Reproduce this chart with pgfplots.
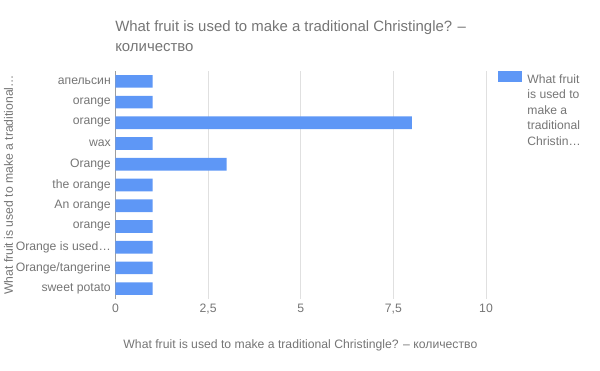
\documentclass[border=0pt]{standalone}
\usepackage{pgfplots}
\pgfplotsset{compat=1.18}
\usepackage{fontspec}
\setmainfont{Liberation Sans}
\definecolor{barblue}{HTML}{5E97F6}
\definecolor{txt}{HTML}{757575}
\definecolor{gridgray}{HTML}{E0E0E0}
\definecolor{axisgray}{HTML}{9E9E9E}
\begin{document}
\begin{tikzpicture}
\path[use as bounding box] (0,0) rectangle (450pt,278.25pt);
\begin{axis}[
  at={(86.6pt,54pt)}, anchor=south west,
  scale only axis, width=277.9pt, height=171pt,
  xbar, bar width=9.5pt,
  xmin=0, xmax=10, ymin=-0.5, ymax=10.5, y dir=reverse,
  xtick={2.5,5,7.5,10}, xticklabels={{2,5},5,{7,5},10},
  extra x ticks={0}, extra x tick labels={0},
  extra x tick style={grid style={draw=axisgray, line width=0.75pt}},
  xmajorgrids, grid style={draw=gridgray, line width=0.75pt},
  ytick={0,...,10},
  yticklabels={апельсин, orange, orange, wax, Orange, the orange, An orange, orange, Orange is used…, Orange/tangerine, sweet potato},
  major tick length=0pt,
  axis line style={draw=none},
  tick label style={font=\fontsize{9.15}{11}\selectfont, text=txt},
  legend style={at={(1.0324,1)}, anchor=north west, draw=none, fill=none,
    inner sep=0pt, outer sep=0pt, column sep=2.3pt,
    font=\fontsize{9.1}{11.6}\selectfont, text=txt},
  legend cell align=left,
]
\addplot[fill=barblue, draw=none,
  legend image code/.code={\fill[barblue] (0pt,-1.5pt) rectangle (17.8pt,6.75pt);}]
  coordinates {(1,0) (1,1) (8,2) (1,3) (3,4) (1,5) (1,6) (1,7) (1,8) (1,9) (1,10)};
\addlegendentry{\parbox[t]{60pt}{\raggedright What fruit\\is used to\\make a\\traditional\\Christin…}}
\end{axis}
\node[anchor=base west, font=\fontsize{11.2}{14}\selectfont, text=txt, inner sep=0pt] at (86.25pt,254.5pt) {What fruit is used to make a traditional Christingle? –};
\node[anchor=base west, font=\fontsize{11.2}{14}\selectfont, text=txt, inner sep=0pt] at (86.25pt,239.5pt) {количество};
\node[anchor=base, font=\fontsize{9.15}{11}\selectfont, text=txt, inner sep=0pt] at (225.3pt,17pt) {What fruit is used to make a traditional Christingle? – количество};
\node[rotate=90, anchor=center, font=\fontsize{9.15}{11}\selectfont, text=txt, inner sep=0pt] at (6.4pt,139.5pt) {What fruit is used to make a traditional…};
\end{tikzpicture}
\end{document}
